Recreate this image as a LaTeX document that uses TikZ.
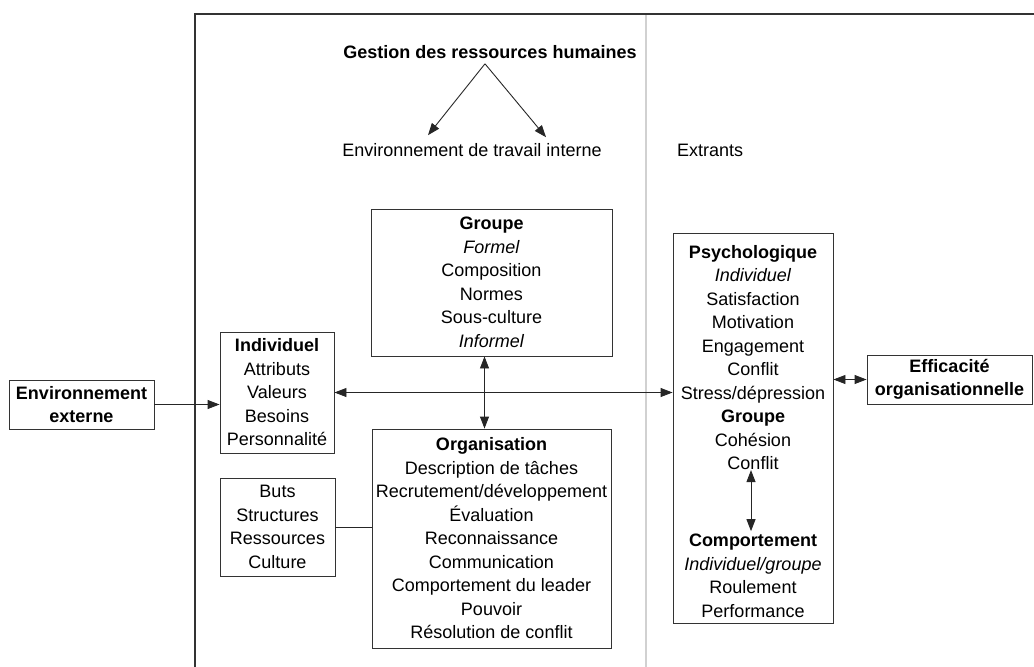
\documentclass[tikz,border=0pt]{standalone}
\usepackage{fontspec}
\setmainfont{Liberation Sans}
\usetikzlibrary{arrows.meta, positioning, calc}

\tikzset{
  txt/.style={inner sep=0pt, font=\fontsize{18}{23.5}\selectfont, align=center},
  cadre/.style={draw=black!80, line width=0.9pt, inner sep=0pt, font=\fontsize{18}{23.5}\selectfont, align=center},
  fleche/.style={line width=0.9pt, draw=black!85, -{Triangle[length=12pt,width=9pt]}},
  dfleche/.style={line width=0.9pt, draw=black!85, {Triangle[length=12pt,width=9pt]}-{Triangle[length=12pt,width=9pt]}}
}

\begin{document}
\begin{tikzpicture}[x=1pt, y=-1pt]
  \useasboundingbox (0,0) rectangle (1034,667);

  \draw[line width=1.6pt, black!80] (195,667) -- (195,14) -- (1034,14);
  \draw[line width=1.6pt, black!18] (646,15) -- (646,667);

  \node[txt, font=\fontsize{18}{23.5}\selectfont\bfseries] (grh) at (490,52) {Gestion des ressources humaines};
  \node[txt] (travail) at (472,150) {Environnement de travail interne};
  \node[txt, anchor=west] (extrants) at (677,150) {Extrants};
  \coordinate (grhpied) at ($(grh.south)+(-5,5)$);
  \draw[fleche] (grhpied) -- ($(travail.north)+(-44,-8)$);
  \draw[fleche] (grhpied) -- ($(travail.north)+(74,-6)$);

  \node[cadre, minimum width=145pt, minimum height=49pt, font=\fontsize{18}{23.5}\selectfont\bfseries] (envext) at (81.5,404.5) {Environnement\\externe};
  \node[cadre, minimum width=114pt, minimum height=121pt] (indiv) at (277,392.5) {\textbf{Individuel}\\Attributs\\Valeurs\\Besoins\\Personnalité};
  \node[cadre, minimum width=115pt, minimum height=98pt] (buts) at (277.5,527) {Buts\\Structures\\Ressources\\Culture};
  \node[cadre, minimum width=241pt, minimum height=147pt] (groupe) at (491.5,282.5) {\textbf{Groupe}\\\textit{Formel}\\Composition\\Normes\\Sous-culture\\\textit{Informel}};
  \node[cadre, minimum width=239pt, minimum height=219pt] (orga) at (491.5,538.5) {\textbf{Organisation}\\Description de tâches\\Recrutement/développement\\Évaluation\\Reconnaissance\\Communication\\Comportement du leader\\Pouvoir\\Résolution de conflit};

  \node[cadre, minimum width=160pt, minimum height=390pt] (psybox) at (753,428) {};
  \node[txt] (psy) at (753,357.5) {\textbf{Psychologique}\\\textit{Individuel}\\Satisfaction\\Motivation\\Engagement\\Conflit\\Stress/dépression\\\textbf{Groupe}\\Cohésion\\Conflit};
  \node[txt] (comp) at (753,576) {\textbf{Comportement}\\\textit{Individuel/groupe}\\Roulement\\Performance};
  \node[cadre, minimum width=165pt, minimum height=49pt, font=\fontsize{18}{23.5}\selectfont\bfseries] (effic) at (949.5,379.5) {Efficacité\\organisationnelle};

  \draw[fleche] (envext.east) -- (envext.east -| indiv.west);
  \draw[dfleche] (indiv.east) -- (indiv.east -| psybox.west);
  \draw[dfleche] ($(groupe.south)+(-7,0)$) -- ($(orga.north)+(-7,0)$);
  \draw[line width=0.9pt, black!85] (buts.east) -- (buts.east -| orga.west);
  \draw[dfleche] (psybox.east |- effic.west) -- (effic.west);
  \draw[dfleche] ($(psy.south)+(-2,0)$) -- ($(comp.north)+(-2,-3)$);
\end{tikzpicture}
\end{document}
